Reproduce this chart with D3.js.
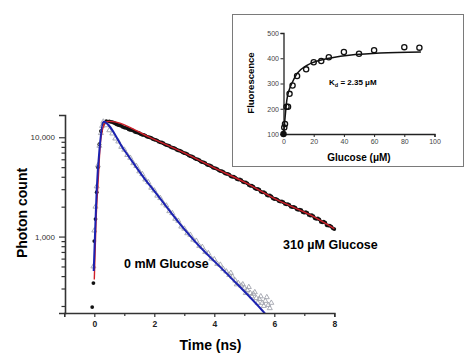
<!DOCTYPE html>
<html>
<head>
<meta charset="utf-8">
<script src="https://cdn.jsdelivr.net/npm/d3@7"></script>
<style>
  body { margin: 0; background: #fff; }
  svg { display: block; font-family: Arial, "Liberation Sans", sans-serif; }
</style>
</head>
<body>
<div id="chart"></div>
<script>
// ---- main decay data (time in ns, photon counts) ----
const time310 = [-0.07, -0.03, 0, 0.04, 0.08, 0.12, 0.17, 0.22, 0.3, 0.4,
  0.5, 0.6, 0.7, 0.8, 0.9, 1.0, 1.1, 1.2, 1.3, 1.4, 1.5, 1.6, 1.7, 1.8, 1.9,
  2.0, 2.1, 2.2, 2.3, 2.4, 2.5, 2.6, 2.7, 2.8, 2.9, 3.0, 3.1, 3.2, 3.3, 3.4, 3.5, 3.6, 3.7, 3.8, 3.9,
  4.0, 4.1, 4.2, 4.3, 4.4, 4.5, 4.6, 4.7, 4.8, 4.9, 5.0, 5.1, 5.2, 5.3, 5.4, 5.5, 5.6, 5.7, 5.8, 5.9,
  6.0, 6.1, 6.2, 6.3, 6.4, 6.5, 6.6, 6.7, 6.8, 6.9, 7.0, 7.1, 7.2, 7.3, 7.4, 7.5, 7.6, 7.7, 7.8, 7.9, 8.0,
  0.55, 0.65, 0.75, 0.85, 0.95, 1.05, 1.15, 1.25, 1.35, 1.45, 1.55, 1.65, 1.75, 1.85, 1.95,
  2.05, 2.15, 2.25, 2.35, 2.45, 2.55, 2.65, 2.75, 2.85, 2.95, 3.05, 3.15, 3.25, 3.35, 3.45, 3.55, 3.65, 3.75, 3.85, 3.95,
  4.05, 4.15, 4.25, 4.35, 4.45, 4.55, 4.65, 4.75, 4.85, 4.95, 5.05, 5.15, 5.25, 5.35, 5.45, 5.55, 5.65, 5.75, 5.85, 5.95,
  6.05, 6.15, 6.25, 6.35, 6.45, 6.55, 6.65, 6.75, 6.85, 6.95, 7.05, 7.15, 7.25, 7.35, 7.45, 7.55, 7.65, 7.75, 7.85, 7.95];
const count310 = [195, 340, 900, 1500, 2800, 5000, 8500, 11500, 13600, 14500,
  14450, 14200, 13750, 13250, 13000, 12500, 12300, 11850, 11650, 11200, 11000, 10600, 10400, 10050, 9850,
  9480, 9260, 8900, 8700, 8350, 8170, 7850, 7680, 7370, 7200, 6920, 6750, 6450, 6290, 6020, 5870, 5610, 5480, 5230, 5110,
  4890, 4780, 4570, 4480, 4280, 4200, 4000, 3930, 3750, 3690, 3510, 3440, 3250, 3190, 3010, 2960, 2790, 2740, 2580, 2540,
  2390, 2360, 2250, 2220, 2110, 2080, 1980, 1960, 1860, 1840, 1740, 1730, 1630, 1610, 1510, 1490, 1390, 1380, 1290, 1260, 1190,
  14300, 14000, 13450, 13200, 12700, 12450, 12000, 11800, 11350, 11150, 10750, 10550, 10150, 9990, 9600,
  9400, 9030, 8850, 8480, 8300, 7970, 7800, 7480, 7320, 7030, 6870, 6560, 6400, 6120, 5980, 5700, 5580, 5310, 5200, 4960,
  4870, 4640, 4560, 4340, 4270, 4050, 4000, 3800, 3760, 3560, 3510, 3300, 3250, 3060, 3020, 2830, 2800, 2620, 2600, 2430,
  2400, 2280, 2260, 2140, 2120, 2000, 1990, 1880, 1870, 1760, 1760, 1650, 1640, 1530, 1520, 1410, 1410, 1300, 1290, 1210];

const time0 = [-0.03, 0, 0.04, 0.08, 0.12, 0.17, 0.22, 0.26,
  0.3, 0.4, 0.5, 0.6, 0.7, 0.8, 0.9, 1.0, 1.1, 1.2, 1.3, 1.4, 1.5, 1.6, 1.7, 1.8, 1.9,
  2.0, 2.1, 2.2, 2.3, 2.4, 2.5, 2.6, 2.7, 2.8, 2.9, 3.0, 3.1, 3.2, 3.3, 3.4, 3.5, 3.6, 3.7, 3.8, 3.9,
  4.0, 4.1, 4.2, 4.3, 4.4, 4.5, 4.6, 4.7, 4.8, 4.9, 5.0, 5.1, 5.2, 5.3, 5.4, 5.5, 5.6, 5.7, 5.8, 5.9,
  4.55, 4.75, 4.95, 5.05, 5.15, 5.25, 5.35, 5.45, 5.55, 5.65, 5.75, 5.85];
const count0 = [500, 1150, 2000, 3200, 5200, 8200, 11000, 13000,
  14350, 13200, 11750, 10900, 9700, 9050, 8000, 7480, 6620, 6200, 5480, 5130, 4530, 4250, 3750, 3520, 3100,
  2910, 2580, 2440, 2160, 2050, 1800, 1720, 1510, 1440, 1260, 1200, 1080, 1040, 930, 905, 805, 785, 700, 680, 600,
  590, 530, 520, 470, 445, 410, 395, 360, 340, 320, 305, 290, 270, 265, 240, 235, 215, 225, 205, 215,
  430, 330, 330, 270, 310, 250, 275, 215, 250, 200, 245, 190];

// fitted curves
const fitTime310 = [0, 0.06, 0.13, 0.2, 0.3, 0.4, 0.5, 1.9, 3.0, 4.0, 5.0, 6.1, 7.2, 8.0];
const fitCount310 = [370, 1500, 3700, 8500, 12800, 14300, 14450, 9810, 6950, 4910, 3540, 2340, 1650, 1200];
const fitTime0 = [-0.02, 0.03, 0.08, 0.18, 0.3, 1.0, 1.75, 1.97, 3.02, 3.36, 4.5, 5.63, 5.75];
const fitCount0 = [450, 1200, 2950, 8000, 14350, 7400, 3575, 2950, 1167, 891, 400, 176, 160];

const xTicks = [0, 2, 4, 6, 8];
const xMinor = [1, 3, 5, 7];
const yTicks = [1000, 10000];
const yMinor = [200, 300, 400, 500, 600, 700, 800, 900, 2000, 3000, 4000, 5000, 6000, 7000, 8000, 9000];

// ---- inset: binding titration ----
const glucose = [0, 0.5, 1, 2, 3, 4, 6, 9, 15, 20, 25, 30, 40, 50, 60, 80, 90];
const fluorescence = [100, 126, 140, 208, 208, 259, 292, 330, 356, 384, 389, 404, 425, 418, 432, 444, 442];
const fitGlucose = [0, 0.7, 1.5, 2.2, 3.5, 5.5, 8.9, 15.5, 24.3, 37.6, 64, 91];
const fitFluor = [100, 142, 195, 234, 270, 300, 339, 372, 392, 408, 421, 425];
const insetXTicks = [0, 20, 40, 60, 80, 100];
const insetYTicks = [100, 200, 300, 400, 500];

const W = 474, H = 363;
const svg = d3.select("#chart").append("svg").attr("width", W).attr("height", H);

// ===== main plot =====
const x = d3.scaleLinear().domain([-1, 8]).range([64.3, 334.3]);
const y = d3.scaleLog().domain([170, 16750]).range([313, 115]);
const axisColor = "#333";

svg.append("clipPath").attr("id", "plotClip")
  .append("rect").attr("x", 64).attr("y", 105).attr("width", 280).attr("height", 208);

const plot = svg.append("g").attr("clip-path", "url(#plotClip)");

// 310 uM glucose: black dots
plot.selectAll("circle.d310").data(d3.zip(time310, count310)).join("circle")
  .attr("class", "d310")
  .attr("cx", d => x(d[0])).attr("cy", d => y(d[1]))
  .attr("r", 1.9).attr("fill", "#111");

// 0 mM glucose: open grey triangles
const tri = d3.symbol().type(d3.symbolTriangle).size(11);
plot.selectAll("path.d0").data(d3.zip(time0, count0)).join("path")
  .attr("class", "d0")
  .attr("d", tri)
  .attr("transform", d => `translate(${x(d[0])},${y(d[1])})`)
  .attr("fill", "none").attr("stroke", "#a2a4ae").attr("stroke-width", 0.9);

const line = d3.line().x(d => x(d[0])).y(d => y(d[1])).curve(d3.curveMonotoneX);

plot.append("path").datum(d3.zip(fitTime310, fitCount310))
  .attr("d", line).attr("fill", "none").attr("stroke", "#d0202a").attr("stroke-width", 1.4);
plot.append("path").datum(d3.zip(fitTime0, fitCount0))
  .attr("d", line).attr("fill", "none").attr("stroke", "#1c22b0").attr("stroke-width", 2);

// axes
const xAxis = svg.append("g").attr("transform", "translate(0,313)")
  .call(d3.axisBottom(x).tickValues(xTicks).tickSize(4).tickPadding(4).tickFormat(d3.format("d")));
svg.append("g").attr("transform", "translate(0,313)")
  .call(d3.axisBottom(x).tickValues(xMinor).tickSize(3).tickFormat(""))
  .select(".domain").remove();
const yAxis = svg.append("g").attr("transform", "translate(65,0)")
  .call(d3.axisLeft(y).tickValues(yTicks).tickSize(6).tickPadding(4).tickFormat(d3.format(",")));
svg.append("g").attr("transform", "translate(65,0)")
  .call(d3.axisLeft(y).tickValues(yMinor).tickSize(3.5).tickFormat(""))
  .select(".domain").remove();

svg.selectAll(".domain").attr("stroke", axisColor).attr("stroke-width", 1.6);
svg.selectAll(".tick line").attr("stroke", axisColor).attr("stroke-width", 1.2);
xAxis.selectAll(".tick text").attr("font-size", 8.5).attr("font-weight", "bold").attr("fill", "#222");
yAxis.selectAll(".tick text").attr("font-size", 8).attr("fill", "#333");

svg.append("text").attr("transform", "translate(27,213) rotate(-90)")
  .attr("text-anchor", "middle").attr("font-size", 14).attr("font-weight", "bold")
  .text("Photon count");
svg.append("text").attr("x", 210.5).attr("y", 349.5)
  .attr("text-anchor", "middle").attr("font-size", 14).attr("font-weight", "bold")
  .text("Time (ns)");

svg.append("text").attr("x", 124).attr("y", 268)
  .attr("font-size", 12.5).attr("font-weight", "bold").text("0 mM Glucose");
svg.append("text").attr("x", 283).attr("y", 249)
  .attr("font-size", 12.5).attr("font-weight", "bold").text("310 \u00b5M Glucose");

// ===== inset =====
const inset = svg.append("g");
inset.append("rect").attr("x", 232.5).attr("y", 14.5).attr("width", 231).attr("height", 152)
  .attr("fill", "#fff").attr("stroke", "#7a7a7a").attr("stroke-width", 1);

const ix = d3.scaleLinear().domain([0, 100]).range([283.5, 434.5]);
const iy = d3.scaleLinear().domain([100, 500]).range([134, 33]);

const ixAxis = inset.append("g").attr("transform", "translate(0,134)")
  .call(d3.axisBottom(ix).tickValues(insetXTicks).tickSize(3).tickPadding(2));
const iyAxis = inset.append("g").attr("transform", "translate(283.5,0)")
  .call(d3.axisLeft(iy).tickValues(insetYTicks).tickSize(3).tickPadding(1.5));
inset.selectAll(".domain").attr("stroke", "#222").attr("stroke-width", 1.3);
inset.selectAll(".tick line").attr("stroke", "#222");
inset.selectAll(".tick text").attr("font-size", 7).attr("fill", "#444");

inset.append("path").datum(d3.zip(fitGlucose, fitFluor))
  .attr("d", d3.line().x(d => ix(d[0])).y(d => iy(d[1])).curve(d3.curveMonotoneX))
  .attr("fill", "none").attr("stroke", "#111").attr("stroke-width", 1.5);

inset.selectAll("circle").data(d3.zip(glucose, fluorescence)).join("circle")
  .attr("cx", d => ix(d[0])).attr("cy", d => iy(d[1])).attr("r", 2.6)
  .attr("fill", (d, i) => i === 0 ? "#111" : "none")
  .attr("stroke", "#111").attr("stroke-width", 1.3);

inset.append("text").attr("transform", "translate(254,83) rotate(-90)")
  .attr("text-anchor", "middle").attr("font-size", 9.5).attr("font-weight", "bold")
  .text("Fluorescence");
inset.append("text").attr("x", 359).attr("y", 161)
  .attr("text-anchor", "middle").attr("font-size", 10).attr("font-weight", "bold")
  .text("Glucose (\u03bcM)");

const kd = inset.append("text").attr("x", 329).attr("y", 85)
  .attr("font-size", 8).attr("font-weight", "bold");
kd.append("tspan").text("K");
kd.append("tspan").attr("font-size", 5.5).attr("dy", 1.5).text("d");
kd.append("tspan").attr("dy", -1.5).text(" = 2.35 \u03bcM");
</script>
</body>
</html>
